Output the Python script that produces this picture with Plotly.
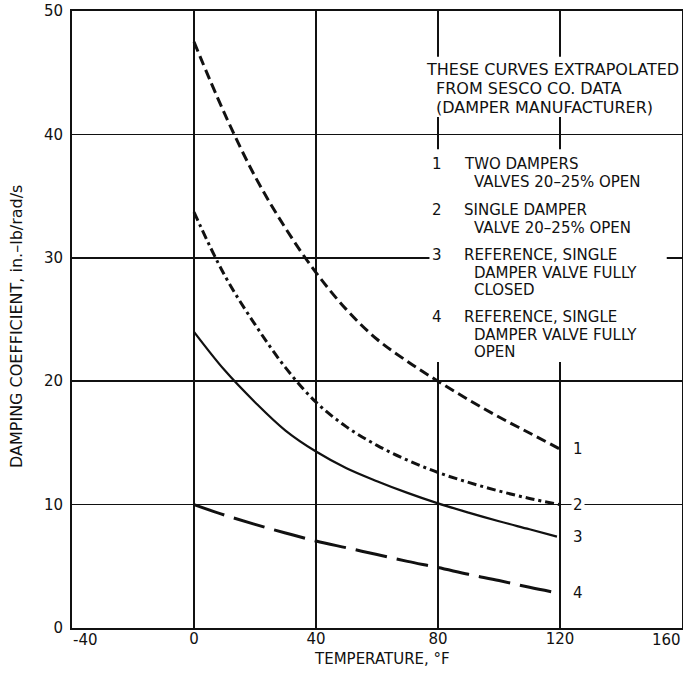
import plotly.graph_objects as go

# ---- data ----
temps = [0, 10, 20, 30, 40, 50, 60, 70, 80, 90, 100, 110, 120]
coef_1 = [47.5, 41.7, 36.6, 32.4, 28.8, 25.8, 23.4, 21.6, 20.0, 18.5, 17.1, 15.8, 14.5]
coef_2 = [33.7, 28.6, 24.6, 21.1, 18.3, 16.3, 14.8, 13.6, 12.6, 11.8, 11.1, 10.5, 10.0]
temps_3 = [0, 10, 20, 30, 40, 50, 60, 70, 80, 90, 100, 110, 119]
coef_3 = [24.0, 20.9, 18.3, 16.0, 14.3, 12.95, 11.9, 10.95, 10.1, 9.35, 8.65, 8.0, 7.4]
coef_4 = [10.0, 9.15, 8.4, 7.7, 7.05, 6.5, 5.95, 5.4, 4.9, 4.35, 3.85, 3.3, 2.8]

curve_labels = ["1", "2", "3", "4"]

note_lines = ["THESE CURVES EXTRAPOLATED", "FROM SESCO CO. DATA", "(DAMPER MANUFACTURER)"]
legend_items = [
    ("1", ["TWO DAMPERS", "VALVES 20\u201325% OPEN"]),
    ("2", ["SINGLE DAMPER", "VALVE 20\u201325% OPEN"]),
    ("3", ["REFERENCE, SINGLE", "DAMPER VALVE FULLY", "CLOSED"]),
    ("4", ["REFERENCE, SINGLE", "DAMPER VALVE FULLY", "OPEN"]),
]

x_min, x_max = -40, 160
x_ticks = [0, 40, 80, 120]
x_tick_text = ["0", "40", "80", "120"]
y_ticks = [0, 10, 20, 30, 40, 50]

FONT = "DejaVu Sans"
BLACK = "#111111"

fig = go.Figure()
series = [
    (temps, coef_1, "10px,5px", 3),
    (temps, coef_2, "9px,4px,3px,4px", 3),
    (temps_3, coef_3, "solid", 2.2),
    (temps, coef_4, "32px,10px", 3),
]
for xs, ys, dash, w in series:
    fig.add_trace(go.Scatter(x=xs, y=ys, mode="lines",
                             line=dict(color=BLACK, width=w, dash=dash, shape="spline", smoothing=1.0),
                             showlegend=False, hoverinfo="skip"))

annotations = []
# end-of-curve labels
for lab, ys in zip(curve_labels, [coef_1, coef_2, coef_3, coef_4]):
    annotations.append(dict(x=125.9, y=ys[-1], xref="x", yref="y", text=lab, showarrow=False,
                            font=dict(family=FONT, size=15, color=BLACK), bgcolor="white",
                            borderpad=1, xanchor="center", yanchor="middle"))

# note block
note_y = [45.30, 43.76, 42.22]
note_x = [75.7, 79.0, 79.0]
for t, yy, xx in zip(note_lines, note_y, note_x):
    annotations.append(dict(x=xx, y=yy, xref="x", yref="y", text=t, showarrow=False,
                            font=dict(family=FONT, size=16, color=BLACK), borderpad=0,
                            xanchor="left", yanchor="middle"))

# legend block
legend_y = [[37.60, 36.14], [33.87, 32.41], [30.23, 28.80, 27.37], [25.20, 23.78, 22.35]]
for (num, lines), ys in zip(legend_items, legend_y):
    annotations.append(dict(x=79.7, y=ys[0], xref="x", yref="y", text=num, showarrow=False,
                            font=dict(family=FONT, size=15, color=BLACK), borderpad=0,
                            xanchor="center", yanchor="middle"))
    for i, (t, yy) in enumerate(zip(lines, ys)):
        annotations.append(dict(x=88.2 if i == 0 else 91.5, y=yy, xref="x", yref="y", text=t,
                                showarrow=False, font=dict(family=FONT, size=15, color=BLACK),
                                borderpad=0, xanchor="left", yanchor="middle"))

# end tick labels of the x axis (shifted inward as in the reference)
annotations.append(dict(x=x_min, y=0, xref="x", yref="paper", text="-40", showarrow=False,
                        font=dict(family=FONT, size=15, color=BLACK), xanchor="left", yanchor="top",
                        yshift=-2, borderpad=0))
annotations.append(dict(x=x_max, y=0, xref="x", yref="paper", text="160", showarrow=False,
                        font=dict(family=FONT, size=15, color=BLACK), xanchor="right", yanchor="top",
                        yshift=-2, borderpad=0))

# axis titles
annotations.append(dict(x=0.508, y=-0.0502, xref="paper", yref="paper", text="TEMPERATURE, \u00b0F",
                        showarrow=False, font=dict(family=FONT, size=15, color=BLACK),
                        xanchor="center", yanchor="middle"))
annotations.append(dict(x=-0.09, y=0.488, xref="paper", yref="paper",
                        text="DAMPING COEFFICIENT, in.\u2013lb/rad/s", textangle=-90,
                        showarrow=False, font=dict(family=FONT, size=16, color=BLACK),
                        xanchor="center", yanchor="middle"))

shapes = [
    dict(type="rect", xref="x", yref="y", x0=74.0, x1=158.5, y0=41.4, y1=46.3,
         fillcolor="white", line=dict(width=0), layer="above"),
    dict(type="rect", xref="x", yref="y", x0=77.2, x1=155.0, y0=21.55, y1=38.8,
         fillcolor="white", line=dict(width=0), layer="above"),
]

axis_common = dict(showgrid=True, gridcolor=BLACK, gridwidth=1.5, showline=True, linecolor=BLACK,
                   linewidth=2, mirror=True, ticks="", zeroline=False, automargin=False,
                   ticklabeloverflow="allow",
                   tickfont=dict(family=FONT, size=15, color=BLACK))

fig.update_layout(
    width=683, height=677,
    margin=dict(l=72, r=1, t=11, b=49),
    paper_bgcolor="white", plot_bgcolor="white",
    xaxis=dict(range=[x_min, x_max], tickvals=x_ticks, ticktext=x_tick_text,
               ticklabelstandoff=-4, **axis_common),
    yaxis=dict(range=[0, 50], tickvals=y_ticks,
               ticklabelstandoff=4, **axis_common),
    annotations=annotations,
    shapes=shapes,
)

fig.write_html("out.html", config={"displayModeBar": False, "staticPlot": True},
               post_script="document.body.style.margin='0';")
